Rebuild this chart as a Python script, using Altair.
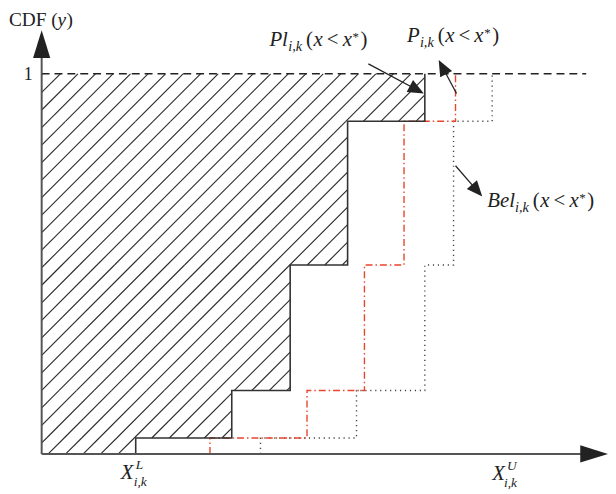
import math
import altair as alt
import pandas as pd

# ---------------- data (x in drawing units, y = CDF) ----------------
levels = [0.0, 0.042, 0.167, 0.497, 0.875, 1.0]
pl_x = [95, 192, 251, 309, 387]      # Pl_{i,k}  (solid, hatched region)
p_x = [170, 268, 326, 366, 418]      # P_{i,k}   (red dash-dot)
bel_x = [221, 318, 387, 416, 455]    # Bel_{i,k} (dotted)

W, H = 572, 428
PXY = 384.0                # pixels per CDF unit
YMAX = H / PXY
X_END_DASH = 550           # end of the y = 1 dashed line

FONT = "Liberation Serif"
INK = "#222222"

xs = alt.Scale(domain=[0, W], nice=False, zero=False)
ys = alt.Scale(domain=[0, YMAX], nice=False, zero=False)


def X(f, **k):
    return alt.X(f, type="quantitative", scale=xs, axis=None, **k)


def Y(f, **k):
    return alt.Y(f, type="quantitative", scale=ys, axis=None, **k)


def step_df(xv):
    rows = []
    for i, x in enumerate(xv):
        rows.append((x, levels[i]))
        rows.append((x, levels[i + 1]))
    return pd.DataFrame({"x": [r[0] for r in rows], "y": [r[1] for r in rows],
                         "o": list(range(len(rows)))})


def step_line(xv, **style):
    return alt.Chart(step_df(xv)).mark_line(**style).encode(
        x=X("x"), y=Y("y"), order="o:Q")


# ---------------- hatching of the region left of Pl ----------------
h_space = 17.7
k_ref = -152.7
segs = []
for n in range(-30, 30):
    k = k_ref + n * h_space          # line: x = PXY*y + k  (45 deg on screen)
    for i in range(5):
        y0, y1 = levels[i], levels[i + 1]
        xr = pl_x[i]
        lo = max(y0, -k / PXY)
        hi = min(y1, (xr - k) / PXY)
        if hi - lo > 1e-6:
            segs.append({"x": PXY * lo + k, "y": lo, "x2": PXY * hi + k, "y2": hi})
hatch = alt.Chart(pd.DataFrame(segs)).mark_rule(color="#2a2a2a", strokeWidth=1.1).encode(
    x=X("x"), y=Y("y"), x2="x2", y2="y2")

# ---------------- arrows ----------------
BIG = "M0,-1L0.62,1L-0.62,1Z"
SMALL = "M0,-1L0.85,1L-0.85,1Z"


def arrow(sx, sy, tx, ty, r):
    dxp = tx - sx
    dyp = -(ty - sy) * PXY
    L = math.hypot(dxp, dyp)
    ux, uy = dxp / L, dyp / L
    cx = tx - r * ux
    cy = ty + r * uy / PXY
    ang = math.degrees(math.atan2(ux, -uy)) % 360
    return {"x": sx, "y": sy, "x2": cx, "y2": cy}, {"x": cx, "y": cy, "a": ang}


axis_rows, axis_heads = [], []
for s in [(0, 0, 0, YMAX), (0, 0, W, 0)]:
    a, b = arrow(*s, 14)
    axis_rows.append(a)
    axis_heads.append(b)

ann = [(330, 1.026, 386, 0.948),   # Pl
       (419, 0.948, 401, 1.036),   # P
       (418, 0.758, 445, 0.677)]   # Bel
ann_rows, ann_heads = [], []
for s in ann:
    a, b = arrow(*s, 8)
    ann_rows.append(a)
    ann_heads.append(b)

axes = alt.Chart(pd.DataFrame(axis_rows)).mark_rule(color="#555555", strokeWidth=2).encode(
    x=X("x"), y=Y("y"), x2="x2", y2="y2")
axes_h = alt.Chart(pd.DataFrame(axis_heads)).mark_point(
    shape=BIG, filled=True, size=784, color=INK, opacity=1, strokeWidth=0).encode(
    x=X("x"), y=Y("y"), angle=alt.Angle("a:Q", scale=None))
shafts = alt.Chart(pd.DataFrame(ann_rows)).mark_rule(color=INK, strokeWidth=1.3).encode(
    x=X("x"), y=Y("y"), x2="x2", y2="y2")
heads = alt.Chart(pd.DataFrame(ann_heads)).mark_point(
    shape=SMALL, filled=True, size=256, color=INK, opacity=1, strokeWidth=0).encode(
    x=X("x"), y=Y("y"), angle=alt.Angle("a:Q", scale=None))

dash1 = alt.Chart(pd.DataFrame({"x": [0], "x2": [X_END_DASH], "y": [1.0]})).mark_rule(
    color=INK, strokeWidth=1.3, strokeDash=[8, 5]).encode(x=X("x"), x2="x2", y=Y("y"))

# ---------------- text ----------------
def cdf_label(name, name_w):
    o = name_w + 18
    return [(name, 0, 0, 21, True), ("i,k", name_w, 5, 14.5, True), ("(", o, 0, 21, False),
            ("x", o + 7.5, 0, 21, True), ("<", o + 21, 0, 21, False), ("x", o + 37, 0, 21, True),
            ("*", o + 47, -5, 13, False), (")", o + 55, 0, 21, False)]


labels = [
    ((230, 1.0729), cdf_label("Pl", 19)),
    ((369, 1.0833), cdf_label("P", 13)),
    ((450, 0.6484), cdf_label("Bel", 28)),
    ((80, -0.0664), [("X", 0, 0, 21, True), ("L", 15, -10, 13.5, True), ("i,k", 13, 7, 13.5, True)]),
    ((455, -0.0690), [("X", 0, 0, 21, True), ("U", 15, -10, 13.5, True), ("i,k", 12, 7, 13.5, True)]),
    ((-33, 1.1250), [("CDF (", 0, 0, 19.5, False), ("y", 49, 0, 19.5, True), (")", 58, 0, 19.5, False)]),
    ((-18, 0.984), [("1", 0, 0, 18, False)]),
]
trows = []
for (ax, ay), pieces in labels:
    for t, dx, dy, sz, it in pieces:
        trows.append({"x": ax + dx, "y": ay - dy / PXY, "t": t, "s": sz, "it": it})
tdf = pd.DataFrame(trows)


def text_layer(df, style):
    return alt.Chart(df).mark_text(align="left", baseline="alphabetic", font=FONT,
                                   fontStyle=style, color=INK).encode(
        x=X("x"), y=Y("y"), text="t:N", size=alt.Size("s:Q", scale=None))


t_it = text_layer(tdf[tdf["it"]], "italic")
t_rm = text_layer(tdf[~tdf["it"]], "normal")

chart = alt.layer(
    hatch,
    dash1,
    step_line(bel_x, color="#444444", strokeWidth=1.4, strokeDash=[1.2, 3.8]),
    step_line(p_x, color="#e8452c", strokeWidth=1.4, strokeDash=[7, 3, 1.5, 3]),
    step_line(pl_x, color="#333333", strokeWidth=1.6),
    axes, axes_h, shafts, heads, t_it, t_rm,
).properties(
    width=W, height=H,
    padding={"left": 34, "top": 20, "right": 0, "bottom": 36},
    autosize=alt.AutoSizeParams(type="none"),
).configure_view(stroke=None)

chart.save("out.html", embed_options={"renderer": "svg", "actions": False})
